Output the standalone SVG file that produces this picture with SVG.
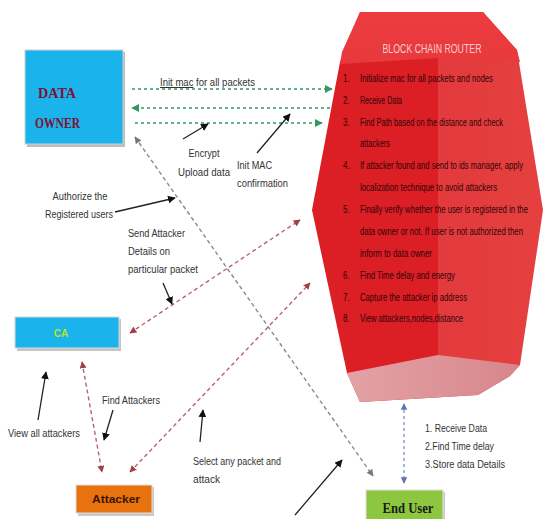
<svg xmlns="http://www.w3.org/2000/svg" width="549" height="519" viewBox="0 0 549 519">
<style>
.lbl{font-family:"Liberation Sans",Arial,sans-serif;font-size:10px;fill:#333}
.rt{font-family:"Liberation Sans",Arial,sans-serif;font-size:11px;fill:#2e0505}
.g{stroke:#2f9a62;stroke-width:1.6;stroke-dasharray:3 3;fill:none}
.gr{stroke:#8a8a8a;stroke-width:1.4;stroke-dasharray:4 3;fill:none}
.rd{stroke:#b4646a;stroke-width:1.4;stroke-dasharray:4 3;fill:none}
.bl{stroke:#7f8fc8;stroke-width:1.3;stroke-dasharray:3 3;fill:none}
.k{stroke:#222;stroke-width:1.3;fill:none}
</style>
<defs>
<marker id="ag" viewBox="0 0 10 10" refX="9" refY="5" markerWidth="5" markerHeight="5" orient="auto-start-reverse"><path d="M0,0L10,5L0,10z" fill="#2f9a62"/></marker>
<marker id="agr" viewBox="0 0 10 10" refX="9" refY="5" markerWidth="5" markerHeight="5" orient="auto-start-reverse"><path d="M0,0L10,5L0,10z" fill="#777"/></marker>
<marker id="ard" viewBox="0 0 10 10" refX="9" refY="5" markerWidth="5" markerHeight="5" orient="auto-start-reverse"><path d="M0,0L10,5L0,10z" fill="#a04048"/></marker>
<marker id="abl" viewBox="0 0 10 10" refX="9" refY="5" markerWidth="5" markerHeight="5" orient="auto-start-reverse"><path d="M0,0L10,5L0,10z" fill="#6070b0"/></marker>
<marker id="ak" viewBox="0 0 10 10" refX="9" refY="5" markerWidth="6" markerHeight="6" orient="auto"><path d="M0,0L10,5L0,10z" fill="#111"/></marker>
<linearGradient id="pink" x1="0" y1="0" x2="1" y2="0"><stop offset="0" stop-color="#e3a2a6"/><stop offset="1" stop-color="#d7868b"/></linearGradient>
<linearGradient id="body" gradientUnits="userSpaceOnUse" x1="312" y1="0" x2="543" y2="0"><stop offset="0" stop-color="#dc1e25"/><stop offset="0.545" stop-color="#dc1e25"/><stop offset="0.545" stop-color="#e33a3d"/><stop offset="1" stop-color="#e5403f"/></linearGradient>
<linearGradient id="top" x1="0" y1="0" x2="0" y2="1"><stop offset="0" stop-color="#ec3c40"/><stop offset="1" stop-color="#e8393c"/></linearGradient>
</defs>

<g id="router">
<polygon points="360,12 483,12 517,50 543,210 520,365 510,376 478,395 360,402 347,373 312,210 340,62" fill="url(#body)"/>
<polygon points="360,12 483,12 517,50 520,62 440,58 340,64 342,52" fill="url(#top)"/>
<polygon points="347,373 438,355 520,365 510,376 478,395 360,402" fill="url(#pink)"/>
<text x="432" y="53" text-anchor="middle" font-family="Liberation Sans,Arial,sans-serif" font-size="13" fill="#f6cccc" textLength="99" lengthAdjust="spacingAndGlyphs">BLOCK CHAIN ROUTER</text>
<g class="rt" transform="scale(0.72,1)">
<text x="476.4" y="82">1.</text><text x="500" y="82" textLength="184.7" lengthAdjust="spacingAndGlyphs">Initialize mac for all packets and  nodes</text>
<text x="476.4" y="104">2.</text><text x="500" y="104" textLength="58.3" lengthAdjust="spacingAndGlyphs">Receive Data</text>
<text x="476.4" y="126">3.</text><text x="500" y="126" textLength="198.6" lengthAdjust="spacingAndGlyphs">Find Path based on the distance and check</text>
<text x="500" y="147" textLength="41.7" lengthAdjust="spacingAndGlyphs">attackers</text>
<text x="476.4" y="169">4.</text><text x="500" y="169" textLength="226.4" lengthAdjust="spacingAndGlyphs">If attacker found and send to ids manager, apply</text>
<text x="500" y="191" textLength="190.3" lengthAdjust="spacingAndGlyphs">localization technique to avoid attackers</text>
<text x="476.4" y="213">5.</text><text x="500" y="213" textLength="233.3" lengthAdjust="spacingAndGlyphs">Finally verify whether the user is registered in the</text>
<text x="500" y="235" textLength="226.4" lengthAdjust="spacingAndGlyphs">data owner or not. If user is not authorized then</text>
<text x="500" y="257" textLength="100" lengthAdjust="spacingAndGlyphs">inform to data owner</text>
<text x="476.4" y="279">6.</text><text x="500" y="279" textLength="131.9" lengthAdjust="spacingAndGlyphs">Find  Time delay and energy</text>
<text x="476.4" y="301">7.</text><text x="500" y="301" textLength="148.6" lengthAdjust="spacingAndGlyphs">Capture the attacker ip address</text>
<text x="476.4" y="322">8.</text><text x="500" y="322" textLength="143.1" lengthAdjust="spacingAndGlyphs">View attackers,nodes,distance</text>
</g>
</g>

<g id="data-owner">
<rect x="27" y="52" width="98" height="95" fill="#bdbdbd"/>
<rect x="25" y="50" width="98" height="94" fill="#1bb3ec" stroke="#d0d0d0" stroke-width="1"/>
<text x="38" y="98" font-family="Liberation Serif,Times New Roman,serif" font-weight="bold" font-size="14" fill="#7a1232" textLength="38" lengthAdjust="spacingAndGlyphs">DATA</text>
<text x="35" y="128" font-family="Liberation Serif,Times New Roman,serif" font-weight="bold" font-size="14" fill="#7a1232" textLength="45" lengthAdjust="spacingAndGlyphs">OWNER</text>
</g>

<g id="ca">
<rect x="17" y="319" width="104" height="32" fill="#c4c4c4"/>
<rect x="15" y="317" width="104" height="31" fill="#1bb3ec" stroke="#d8d8d8" stroke-width="1"/>
<text x="61" y="337" text-anchor="middle" font-family="Liberation Sans,Arial,sans-serif" font-weight="bold" font-size="10" fill="#b6e52a">CA</text>
</g>

<g id="attacker">
<rect x="78" y="487" width="76" height="29" fill="#c8c8c8"/>
<rect x="76" y="485" width="76" height="28" fill="#e8720d" stroke="#e0e0e0" stroke-width="1"/>
<text x="116" y="503" text-anchor="middle" font-family="Liberation Sans,Arial,sans-serif" font-weight="bold" font-size="10" fill="#3a1600" textLength="48" lengthAdjust="spacingAndGlyphs">Attacker</text>
</g>

<g id="end-user">
<rect x="368" y="492" width="77" height="30" fill="#c8c8c8"/>
<rect x="366" y="490" width="77" height="30" fill="#8dc73f" stroke="#e0e0e0" stroke-width="1"/>
<text x="408" y="513" text-anchor="middle" font-family="Liberation Serif,Times New Roman,serif" font-weight="bold" font-size="14" fill="#1a1a1a" textLength="51" lengthAdjust="spacingAndGlyphs">End User</text>
</g>

<g id="connectors">
<line class="g" x1="132" y1="89" x2="332" y2="89" marker-end="url(#ag)"/>
<line class="g" x1="330" y1="108" x2="132" y2="108" marker-end="url(#ag)"/>
<line class="g" x1="135" y1="123" x2="322" y2="123" marker-end="url(#ag)"/>
<line class="gr" x1="135" y1="137" x2="373" y2="476" marker-start="url(#agr)" marker-end="url(#agr)"/>
<line class="rd" x1="130" y1="333" x2="300" y2="220" marker-start="url(#ard)" marker-end="url(#ard)"/>
<line class="rd" x1="130" y1="472" x2="310" y2="283" marker-start="url(#ard)" marker-end="url(#ard)"/>
<line class="rd" x1="82" y1="362" x2="102" y2="472" marker-start="url(#ard)" marker-end="url(#ard)"/>
<line class="bl" x1="404" y1="404" x2="404" y2="483" marker-start="url(#abl)" marker-end="url(#abl)"/>
<line class="k" x1="183" y1="139" x2="208" y2="124" marker-end="url(#ak)"/>
<line class="k" x1="257" y1="153" x2="290" y2="114" marker-end="url(#ak)"/>
<line class="k" x1="115" y1="212" x2="175" y2="198" marker-end="url(#ak)"/>
<line class="k" x1="163" y1="283" x2="172" y2="304" marker-end="url(#ak)"/>
<line class="k" x1="38" y1="420" x2="46" y2="372" marker-end="url(#ak)"/>
<line class="k" x1="113" y1="410" x2="104" y2="440" marker-end="url(#ak)"/>
<line class="k" x1="200" y1="442" x2="203" y2="410" marker-end="url(#ak)"/>
<line class="k" x1="295" y1="515" x2="342" y2="460" marker-end="url(#ak)"/>
</g>

<g id="labels" class="lbl">
<text x="160" y="86" textLength="95" lengthAdjust="spacingAndGlyphs"><tspan text-decoration="underline">Init  mac</tspan> for all packets</text>
<text x="204" y="157" text-anchor="middle" textLength="31" lengthAdjust="spacingAndGlyphs">Encrypt</text>
<text x="204" y="176" text-anchor="middle" textLength="52" lengthAdjust="spacingAndGlyphs">Upload data</text>
<text x="237" y="169" textLength="35" lengthAdjust="spacingAndGlyphs">Init MAC</text>
<text x="237" y="187" textLength="51" lengthAdjust="spacingAndGlyphs">confirmation</text>
<text x="80" y="200" text-anchor="middle" textLength="55" lengthAdjust="spacingAndGlyphs">Authorize the</text>
<text x="79" y="218" text-anchor="middle" textLength="68" lengthAdjust="spacingAndGlyphs">Registered users</text>
<text x="128" y="237" textLength="57" lengthAdjust="spacingAndGlyphs">Send Attacker</text>
<text x="128" y="255" textLength="42" lengthAdjust="spacingAndGlyphs">Details on</text>
<text x="128" y="273" textLength="70" lengthAdjust="spacingAndGlyphs">particular packet</text>
<text x="8" y="437" textLength="72" lengthAdjust="spacingAndGlyphs">View all attackers</text>
<text x="102" y="404" textLength="58" lengthAdjust="spacingAndGlyphs">Find Attackers</text>
<text x="193" y="465" textLength="88" lengthAdjust="spacingAndGlyphs">Select any packet and</text>
<text x="193" y="483" textLength="27" lengthAdjust="spacingAndGlyphs">attack</text>
<text x="425" y="432" textLength="62" lengthAdjust="spacingAndGlyphs">1. Receive Data</text>
<text x="425" y="450" textLength="69" lengthAdjust="spacingAndGlyphs">2.Find Time delay</text>
<text x="425" y="468" textLength="80" lengthAdjust="spacingAndGlyphs">3.Store data Details</text>
</g>
</svg>
